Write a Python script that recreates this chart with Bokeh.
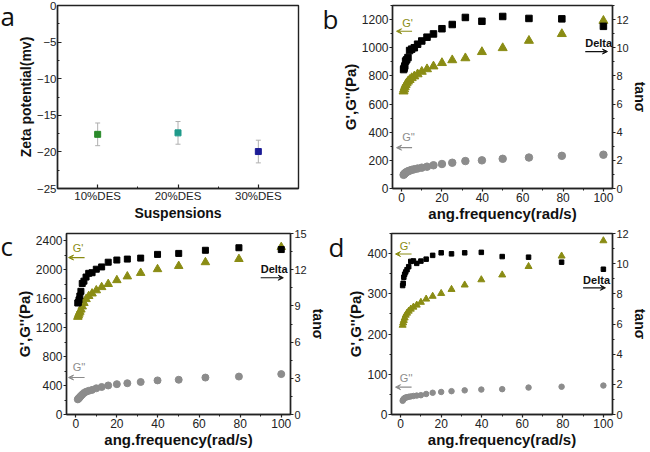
from bokeh.plotting import figure
from bokeh.models import (Range1d, LinearAxis, SingleIntervalTicker, FixedTicker, Whisker,
                          TeeHead, ColumnDataSource, Label, Arrow, VeeHead)
from bokeh.layouts import row, column
from bokeh.embed import file_html
from bokeh.resources import INLINE

# ---------------- data ----------------
suspensions = ["10%DES", "20%DES", "30%DES"]
zeta_mean = [-17.6, -17.4, -19.95]
zeta_err = [1.55, 1.55, 1.55]
zeta_colors = ["#2a8a2a", "#1f9a8a", "#1c1c96"]

freq = [1, 1.26, 1.58, 2, 2.51, 3.16, 3.98, 5.01, 6.31, 7.94, 10, 12.6, 15.8, 20, 25.1,
        31.6, 39.8, 50.1, 63.1, 79.4, 100]

b_g1 = [690, 705, 720, 735, 748, 760, 772, 785, 797, 812, 830, 848, 868, 892, 912, 926,
        970, 998, 1050, 1098, 1192]
b_g2 = [97, 102, 107, 112, 117, 122, 127, 132, 137, 142, 148, 155, 165, 174, 183, 195,
        200, 211, 220, 232, 240]
b_tan = [8.45, 8.55, 8.7, 9.05, 9.15, 9.3, 9.8, 9.9, 10.0, 10.25, 10.48, 10.75, 10.98,
         11.35, 11.65, 12.15, 11.88, 12.22, 12.08, 12.05, 11.52]

c_g1 = [1348, 1366, 1392, 1418, 1449, 1492, 1540, 1593, 1636, 1671, 1715, 1759, 1802,
        1855, 1907, 1955, 2007, 2051, 2103, 2147, 2313]
c_g2 = [209, 218, 227, 240, 257, 275, 297, 314, 327, 340, 362, 380, 401, 419, 432, 449,
        471, 480, 510, 524, 558]
c_tan = [9.24, 9.29, 9.5, 9.82, 10.21, 10.86, 11.05, 11.39, 11.7, 11.75, 12.04, 12.23,
         12.62, 12.8, 12.88, 12.96, 13.27, 13.35, 13.61, 13.82, 13.67]

d_g1 = [222, 228, 234, 240, 247, 252, 257, 262, 267, 272, 279, 287, 294, 301, 311, 322,
        335, 347, 368, 394, 432]
d_g2 = [34, 37, 39, 41, 42, 43, 44, 45, 46, 47, 48, 51, 54, 56, 58, 60, 62, 63, 67, 69, 72]
d_tan = [8.55, 8.7, 9.1, 9.3, 9.45, 9.6, 9.8, 10.15, 10.18, 10.02, 10.17, 10.3, 10.55,
         10.72, 10.65, 10.72, 10.75, 10.47, 10.43, 10.1, 9.63]

OLIVE = "#8a8c14"
GRAY = "#8c8c8c"
FONT = "Liberation Sans"
LETTER_FONT = "Open Sans"


def style_axis(ax, inward, tick_size="12px", label_size="15px"):
    ax.axis_line_width = 1.4
    ax.axis_line_color = "#222222"
    ax.major_tick_line_width = 1.2
    ax.minor_tick_line_width = 1
    ax.major_tick_line_color = "#222222"
    ax.minor_tick_line_color = "#222222"
    if inward:
        ax.major_tick_in, ax.major_tick_out = 4, 0
        ax.minor_tick_in, ax.minor_tick_out = 2, 0
    else:
        ax.major_tick_in, ax.major_tick_out = 0, 3
        ax.minor_tick_in, ax.minor_tick_out = 0, 2
    ax.major_label_text_font = FONT
    ax.major_label_text_font_size = tick_size
    ax.major_label_text_color = "#222222"
    ax.major_label_standoff = 1
    ax.axis_label_text_font = FONT
    ax.axis_label_text_font_style = "bold"
    ax.axis_label_text_font_size = label_size
    ax.axis_label_text_color = "#111111"
    ax.axis_label_standoff = 0


def letter(p, text, y, dy):
    p.add_layout(Label(x=0, x_units="screen", y=y, y_offset=dy, text=text,
                       text_font=LETTER_FONT, text_font_size="26px",
                       text_baseline="alphabetic", text_align="left",
                       text_color="#111111"), "left")


# ---------------- panel a ----------------
pa = figure(width=322, height=224, x_range=Range1d(0.5, 3.5), y_range=Range1d(-25, 0),
            output_backend="svg", toolbar_location=None,
            min_border_left=10, min_border_right=24, min_border_top=5, min_border_bottom=30)
pa.grid.visible = False
pa.outline_line_color = "#222222"
pa.outline_line_width = 1.4
pa.outline_line_alpha = 1
xpos = list(range(1, len(suspensions) + 1))
src_a = ColumnDataSource(dict(x=xpos, y=zeta_mean,
                              up=[m + e for m, e in zip(zeta_mean, zeta_err)],
                              lo=[m - e for m, e in zip(zeta_mean, zeta_err)],
                              color=zeta_colors))
pa.add_layout(Whisker(source=src_a, base="x", upper="up", lower="lo",
                      line_color="#b0b0b0", line_width=1,
                      upper_head=TeeHead(size=5, line_color="#b0b0b0", line_width=1),
                      lower_head=TeeHead(size=5, line_color="#b0b0b0", line_width=1)))
pa.scatter("x", "y", source=src_a, marker="square", size=6, color="color")
pa.xaxis.ticker = FixedTicker(ticks=xpos, minor_ticks=[1.5, 2.5])
pa.xaxis.major_label_overrides = {x: s for x, s in zip(xpos, suspensions)}
pa.yaxis.ticker = SingleIntervalTicker(interval=5, num_minor_ticks=2)
pa.xaxis.axis_label = "Suspensions"
pa.yaxis.axis_label = "Zeta potential(mv)"
for ax in pa.xaxis + pa.yaxis:
    style_axis(ax, True, tick_size="11.5px", label_size="14px")
letter(pa, "a", 0, -10)


# ---------------- rheology panels ----------------
def rheo(width, height, left_max, left_step, right_max, right_step, g1, g2, tan,
         sq_size, ann, name, borders, ldy):
    p = figure(width=width, height=height, x_range=Range1d(-4.5, 104.5),
               y_range=Range1d(0, left_max), output_backend="svg", toolbar_location=None,
               min_border_left=borders[0], min_border_right=borders[1],
               min_border_top=borders[2], min_border_bottom=borders[3])
    p.grid.visible = False
    p.outline_line_color = "#222222"
    p.outline_line_width = 1.4
    p.outline_line_alpha = 1
    p.extra_y_ranges = {"tan": Range1d(0, right_max)}
    rax = LinearAxis(y_range_name="tan", axis_label="tanσ",
                     ticker=SingleIntervalTicker(interval=right_step, num_minor_ticks=2))
    p.add_layout(rax, "right")
    lax = p.left[0]
    bax = p.below[0]
    bax.ticker = SingleIntervalTicker(interval=20, num_minor_ticks=2)
    lax.ticker = SingleIntervalTicker(interval=left_step, num_minor_ticks=2)
    bax.axis_label = "ang.frequency(rad/s)"
    lax.axis_label = "G',G''(Pa)"
    for ax in (lax, bax):
        style_axis(ax, False)
    style_axis(rax, False, tick_size="11px", label_size="14px")

    src = ColumnDataSource(dict(f=freq, g1=g1, g2=g2, tan=tan))
    p.scatter("f", "g1", source=src, marker="triangle", size=sq_size + 2.5, color=OLIVE)
    p.scatter("f", "g2", source=src, marker="circle", size=sq_size + 1, color=GRAY)
    p.scatter("f", "tan", source=src, marker="square", size=sq_size, color="#000000",
              y_range_name="tan")

    p.add_layout(Label(x=ann["g1"][0], y=ann["g1"][1], text="G'", text_color=OLIVE,
                       text_font=FONT, text_font_size="11px", text_baseline="bottom"))
    p.add_layout(Arrow(x_start=ann["ga"][1], x_end=ann["ga"][0], y_start=ann["g1"][2],
                       y_end=ann["g1"][2], line_color=OLIVE, line_width=1.2,
                       end=VeeHead(size=5, line_color=OLIVE, fill_color=OLIVE, line_width=1)))
    p.add_layout(Label(x=ann["g2"][0], y=ann["g2"][1], text="G''", text_color=GRAY,
                       text_font=FONT, text_font_size="11px", text_baseline="bottom"))
    p.add_layout(Arrow(x_start=ann["ga"][1], x_end=ann["ga"][0], y_start=ann["g2"][2],
                       y_end=ann["g2"][2], line_color=GRAY, line_width=1.2,
                       end=VeeHead(size=5, line_color=GRAY, fill_color=GRAY, line_width=1)))
    p.add_layout(Label(x=ann["dl"][0], y=ann["dl"][1], text="Delta", text_color="#111111",
                       text_font=FONT, text_font_size="11px", text_font_style="bold",
                       text_baseline="bottom"))
    p.add_layout(Arrow(x_start=ann["dl"][0], x_end=ann["dl"][3], y_start=ann["dl"][2],
                       y_end=ann["dl"][2], line_color="#111111", line_width=1.2,
                       end=VeeHead(size=5, line_color="#111111", fill_color="#111111",
                                   line_width=1)))
    letter(p, name, left_max, ldy)
    return p


pb = rheo(328, 224, 1300, 200, 13, 2, b_g1, b_g2, b_tan, 6.5,
          dict(g1=(0.3, 1130, 1117), g2=(0.3, 320, 290), ga=(-2.5, 5.2),
               dl=(91, 990, 973, 102)),
          "b", (10, 26, 5, 30), -13)
pc = rheo(328, 226, 2500, 400, 15, 3, c_g1, c_g2, c_tan, 6,
          dict(g1=(-1.5, 2210, 2168), g2=(-1.5, 575, 511), ga=(-3.5, 4.3),
               dl=(90, 1925, 1889, 101)),
          "c", (10, 26, 9, 30), -12)
pd = rheo(322, 226, 450, 100, 12, 2, d_g1, d_g2, d_tan, 4.5,
          dict(g1=(-0.4, 405, 399), g2=(-0.4, 76, 68), ga=(-2.5, 5.4),
               dl=(90, 320, 315, 101)),
          "d", (10, 26, 9, 30), -13)

layout = column(row(pa, pb), row(pc, pd))
open("out.html", "w").write(file_html(layout, INLINE))
